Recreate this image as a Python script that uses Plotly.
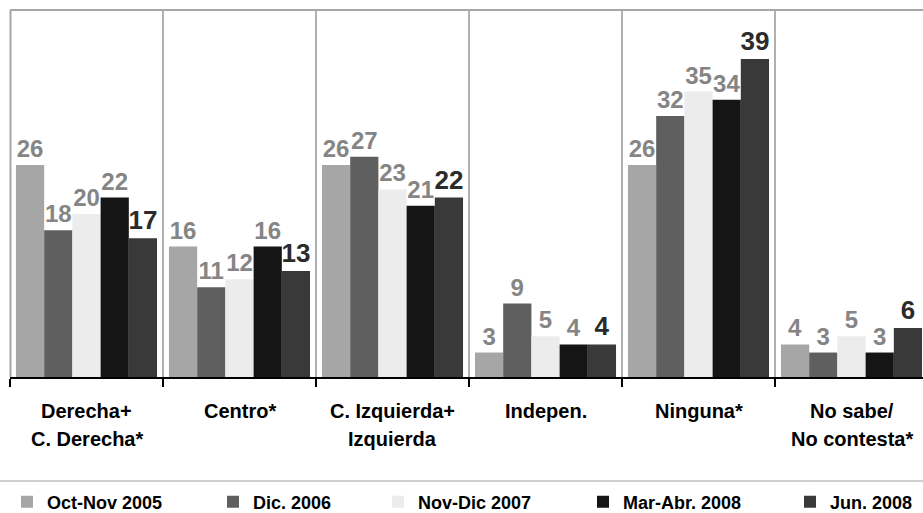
import plotly.graph_objects as go

categories = ["Derecha+<br>C. Derecha*", "Centro*", "C. Izquierda+<br>Izquierda",
              "Indepen.", "Ninguna*", "No sabe/<br>No contesta*"]
series_names = ["Oct-Nov 2005", "Dic. 2006", "Nov-Dic 2007", "Mar-Abr. 2008", "Jun. 2008"]
oct_nov_2005 = [26, 16, 26, 3, 26, 4]
dic_2006 = [18, 11, 27, 9, 32, 3]
nov_dic_2007 = [20, 12, 23, 5, 35, 5]
mar_abr_2008 = [22, 16, 21, 4, 34, 3]
jun_2008 = [17, 13, 22, 4, 39, 6]
series_values = [oct_nov_2005, dic_2006, nov_dic_2007, mar_abr_2008, jun_2008]

colors = ["#a6a6a6", "#5f5f5f", "#ececec", "#151515", "#393939"]
label_colors = ["#858585", "#858585", "#858585", "#858585", "#2b2b2b"]
label_sizes = [24, 24, 24, 24, 26]
FONT = "Arial, Liberation Sans, sans-serif"

W, H = 923, 513
ML, MT, MB = 10, 10, 136
plot_w = W - ML
plot_h = H - MT - MB
cat_px = 153.0

fig = go.Figure()
legend_names = ["legend", "legend2", "legend3", "legend4", "legend5"]
for i, (name, vals) in enumerate(zip(series_names, series_values)):
    fig.add_trace(go.Bar(
        x=list(range(len(categories))), y=vals, name=name,
        marker=dict(color=colors[i], line=dict(width=0)),
        text=[str(v) for v in vals], textposition="outside",
        textfont=dict(family=FONT, size=label_sizes[i], color=label_colors[i], weight="bold"),
        cliponaxis=False, constraintext="none",
        legend=legend_names[i],
    ))

# legends positioned individually (text start x in px)
legend_text_x = [47, 253, 418, 623, 830]
leg_cfg = {}
for i, ln in enumerate(legend_names):
    leg_cfg[ln] = dict(
        x=(legend_text_x[i] - 40) / W, xref="container", xanchor="left",
        y=(H - 502) / H, yref="container", yanchor="middle",
        orientation="h", bgcolor="rgba(0,0,0,0)", borderwidth=0,
        font=dict(family=FONT, size=18, color="#000000", weight="bold"),
        itemwidth=30, tracegroupgap=0,
    )

shapes = []
# top border and left border
shapes.append(dict(type="line", xref="paper", yref="paper", x0=0, x1=1, y0=1, y1=1,
                   line=dict(color="#a6a6a6", width=2)))
shapes.append(dict(type="line", xref="paper", yref="paper", x0=0.5 / plot_w, x1=0.5 / plot_w, y0=0, y1=1,
                   line=dict(color="#a6a6a6", width=2)))
for k in range(len(categories) - 1):
    shapes.append(dict(type="line", xref="x", yref="paper", x0=k + 0.5, x1=k + 0.5, y0=0, y1=1,
                       line=dict(color="#b0b0b0", width=2), layer="below"))
# legend separator line
yl = (MT + plot_h - 481) / plot_h
shapes.append(dict(type="line", xref="paper", yref="paper", x0=-ML / plot_w, x1=1, y0=yl, y1=yl,
                   line=dict(color="#cfcfcf", width=2)))

annotations = []
for k, cat in enumerate(categories):
    lines = cat.split("<br>")
    for j, line in enumerate(lines):
        py = 411 + 28 * j
        annotations.append(dict(
            x=k, xref="x", y=(MT + plot_h - py) / plot_h, yref="paper",
            text=line, showarrow=False, xanchor="center", yanchor="middle",
            font=dict(family=FONT, size=20, color="#000000", weight="bold"),
        ))

fig.update_layout(
    width=W, height=H,
    margin=dict(l=ML, r=0, t=MT, b=MB, pad=0),
    paper_bgcolor="white", plot_bgcolor="white",
    barmode="group", bargap=0.078, bargroupgap=0,
    xaxis=dict(range=[-0.5, -0.5 + plot_w / cat_px], showgrid=False, zeroline=False,
               showline=True, linecolor="#000000", linewidth=2,
               ticks="outside", ticklen=8, tickwidth=2, tickcolor="#000000",
               showticklabels=False, tickmode="array",
               tickvals=[k - 0.5 for k in range(len(categories) + 1)]),
    yaxis=dict(range=[0, 45], showgrid=False, zeroline=False, showticklabels=False,
               showline=False, ticks=""),
    shapes=shapes, annotations=annotations,
    showlegend=True,
    **leg_cfg,
)

fig.write_html("out.html", config={"displayModeBar": False},
               post_script="document.body.style.margin='0';")
